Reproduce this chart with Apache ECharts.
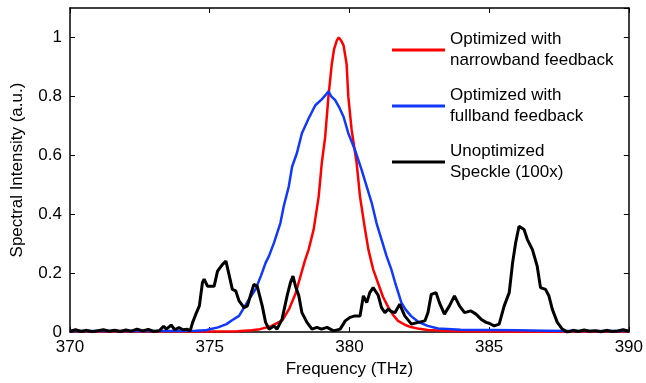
<!DOCTYPE html>
<html>
<head>
<meta charset="utf-8" />
<title>Spectral Intensity</title>
<script src="https://cdn.jsdelivr.net/npm/echarts@6/dist/echarts.min.js"></script>
<style>
  html, body { margin: 0; padding: 0; background: #fff; }
  #container { width: 646px; height: 383px; }
</style>
</head>
<body>
<div id="container"></div>
<script type="text/javascript">
// [frequency (THz), intensity (a.u.)]
var narrowband = [
  [370, 0.003], [371, 0.002], [372, 0.003], [373, 0.002], [374, 0.003], [375, 0.002],
  [376, 0.003], [376.5, 0.006], [376.8, 0.01], [377.2, 0.02], [377.6, 0.04], [377.85, 0.08],
  [378.07, 0.13], [378.25, 0.19], [378.4, 0.24], [378.54, 0.28], [378.72, 0.348], [378.9, 0.46],
  [379.01, 0.573], [379.13, 0.66], [379.25, 0.8], [379.37, 0.91], [379.45, 0.96], [379.55, 0.99],
  [379.62, 1.0], [379.7, 0.99], [379.79, 0.973], [379.9, 0.91], [379.96, 0.8], [380.08, 0.686],
  [380.26, 0.573], [380.38, 0.46], [380.56, 0.348], [380.68, 0.28], [380.85, 0.213], [381.03, 0.165],
  [381.2, 0.12], [381.39, 0.085], [381.55, 0.06], [381.74, 0.038], [382.0, 0.024], [382.2, 0.017],
  [382.5, 0.011], [382.8, 0.007], [383.5, 0.004], [384, 0.003], [385, 0.002], [386, 0.001],
  [387, 0.001], [388, 0.002], [389, 0.001], [390, 0.002]
];

var fullband = [
  [370, 0.004], [372, 0.004], [374, 0.004], [374.5, 0.005], [374.86, 0.006], [375.0, 0.01],
  [375.3, 0.016], [375.6, 0.027], [375.8, 0.04], [376.05, 0.055], [376.4, 0.11], [376.64, 0.145],
  [376.83, 0.19], [377.0, 0.235], [377.12, 0.258], [377.3, 0.303], [377.53, 0.37], [377.65, 0.427],
  [377.83, 0.494], [377.95, 0.562], [378.12, 0.607], [378.3, 0.675], [378.54, 0.725], [378.78, 0.77],
  [379.01, 0.79], [379.15, 0.805], [379.25, 0.817], [379.35, 0.8], [379.49, 0.787], [379.65, 0.76],
  [379.79, 0.731], [379.96, 0.675], [380.2, 0.618], [380.44, 0.55], [380.62, 0.494], [380.8, 0.438],
  [380.97, 0.37], [381.15, 0.314], [381.33, 0.258], [381.5, 0.213], [381.63, 0.17], [381.86, 0.1],
  [382.0, 0.078], [382.2, 0.055], [382.46, 0.035], [382.8, 0.021], [383.17, 0.012], [383.98, 0.008],
  [385, 0.007], [386, 0.006], [387, 0.005], [388, 0.004], [389, 0.004], [390, 0.004]
];

var speckle = [
  [370, 0.003], [370.2, 0.008], [370.4, 0.002], [370.6, 0.006], [370.8, 0.001], [371.0, 0.005],
  [371.2, 0.008], [371.4, 0.003], [371.6, 0.006], [371.8, 0.002], [372.0, 0.007], [372.2, 0.003],
  [372.4, 0.01], [372.6, 0.004], [372.8, 0.009], [373.0, 0.002], [373.2, 0.005], [373.35, 0.02],
  [373.45, 0.01], [373.62, 0.024], [373.75, 0.008], [373.9, 0.015], [374.05, 0.008], [374.2, 0.01],
  [374.3, 0.004], [374.39, 0.033], [374.5, 0.06], [374.63, 0.089], [374.74, 0.168], [374.8, 0.18],
  [374.92, 0.156], [375.16, 0.156], [375.28, 0.207], [375.46, 0.23], [375.58, 0.241], [375.69, 0.196],
  [375.81, 0.145], [375.93, 0.14], [376.05, 0.106], [376.23, 0.083], [376.35, 0.089], [376.47, 0.128],
  [376.58, 0.162], [376.7, 0.156], [376.76, 0.16], [376.88, 0.089], [377.0, 0.033], [377.12, 0.01],
  [377.3, 0.021], [377.41, 0.01], [377.59, 0.044], [377.77, 0.123], [377.89, 0.168], [377.98, 0.19],
  [378.07, 0.156], [378.19, 0.123], [378.3, 0.066], [378.48, 0.033], [378.66, 0.01], [378.84, 0.016],
  [379.0, 0.01], [379.2, 0.016], [379.43, 0.004], [379.67, 0.01], [379.85, 0.038], [380.02, 0.05],
  [380.2, 0.055], [380.38, 0.055], [380.5, 0.123], [380.62, 0.1], [380.73, 0.134], [380.85, 0.151],
  [381.03, 0.125], [381.15, 0.083], [381.27, 0.066], [381.39, 0.078], [381.5, 0.07], [381.63, 0.066],
  [381.8, 0.095], [381.98, 0.055], [382.22, 0.027], [382.46, 0.033], [382.7, 0.038], [382.81, 0.066],
  [382.93, 0.128], [383.1, 0.134], [383.22, 0.1], [383.4, 0.061], [383.58, 0.089], [383.76, 0.123],
  [383.94, 0.089], [384.12, 0.066], [384.35, 0.072], [384.53, 0.061], [384.71, 0.044], [384.89, 0.033],
  [385.0, 0.03], [385.18, 0.021], [385.36, 0.027], [385.54, 0.089], [385.72, 0.134], [385.84, 0.235],
  [385.95, 0.303], [386.07, 0.359], [386.25, 0.348], [386.37, 0.314], [386.55, 0.28], [386.72, 0.224],
  [386.84, 0.151], [387.02, 0.145], [387.14, 0.123], [387.26, 0.078], [387.44, 0.033], [387.62, 0.01],
  [387.8, 0.0], [388.0, 0.006], [388.2, 0.002], [388.4, 0.007], [388.6, 0.003], [388.8, 0.005],
  [389.0, 0.001], [389.2, 0.006], [389.4, 0.002], [389.6, 0.004], [389.8, 0.008], [390, 0.003]
];

var seriesNames = [
  'Optimized with\nnarrowband feedback',
  'Optimized with\nfullband feedback',
  'Unoptimized\nSpeckle (100x)'
];
var seriesColors = ['#ff0000', '#1038ff', '#000000'];

var font = 'Liberation Sans, Arial, sans-serif';

var dom = document.getElementById('container');
var myChart = echarts.init(dom, null, { renderer: 'canvas' });

function axisCommon(extra) {
  var base = {
    type: 'value',
    axisLine: { show: true, onZero: false, lineStyle: { color: '#000', width: 1.5 } },
    axisTick: { show: true, inside: true, length: 5, lineStyle: { color: '#000' } },
    splitLine: { show: false }
  };
  return Object.assign(base, extra);
}

var option = {
  animation: false,
  backgroundColor: '#fff',
  grid: { left: 70, right: 13, top: 8, bottom: 50 },
  legend: {
    orient: 'vertical',
    left: 392,
    top: 29,
    padding: 0,
    icon: 'rect',
    itemWidth: 53,
    itemHeight: 3,
    itemGap: 14,
    data: seriesNames,
    textStyle: { fontFamily: font, fontSize: 17, lineHeight: 21, color: '#000' }
  },
  xAxis: [
    axisCommon({
      min: 370, max: 390, interval: 5,
      name: 'Frequency (THz)', nameLocation: 'middle', nameGap: 28,
      nameTextStyle: { fontFamily: font, fontSize: 17, color: '#000' },
      axisLabel: { margin: 7, fontFamily: font, fontSize: 17, color: '#000' }
    }),
    axisCommon({
      min: 370, max: 390, interval: 5, position: 'top',
      axisLabel: { show: false }
    })
  ],
  yAxis: [
    axisCommon({
      min: 0, max: 1.1, interval: 0.2,
      name: 'Spectral Intensity (a.u.)', nameLocation: 'middle', nameGap: 44,
      nameTextStyle: { fontFamily: font, fontSize: 17, color: '#000' },
      axisLabel: {
        margin: 8, fontFamily: font, fontSize: 17, color: '#000', showMaxLabel: false,
        formatter: function (v) { return v > 1.01 ? '' : String(Math.round(v * 10) / 10); }
      }
    }),
    axisCommon({
      min: 0, max: 1.1, interval: 0.2, position: 'right',
      axisLabel: { show: false }
    })
  ],
  series: [narrowband, fullband, speckle].map(function (d, i) {
    return {
      name: seriesNames[i],
      type: 'line',
      data: d,
      symbol: 'none',
      smooth: false,
      color: seriesColors[i],
      lineStyle: { color: seriesColors[i], width: i === 2 ? 3 : 2.5 },
      z: 2 + i
    };
  })
};

myChart.setOption(option);
window.addEventListener('resize', myChart.resize);
</script>
</body>
</html>
